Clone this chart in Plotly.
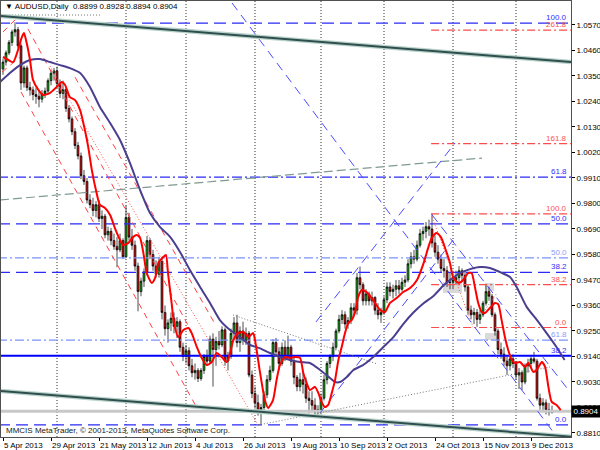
import plotly.graph_objects as go

# ---------------- data (daily bars, index 0 = 5 Apr 2013) ----------------
opens = [1.0380,1.0410,1.0450,1.0495,1.0540,1.0550,1.0480,1.0320,1.0385,1.0300,
         1.0290,1.0270,1.0262,1.0250,1.0272,1.0285,1.0330,1.0362,1.0372,1.0318,
         1.0275,1.0292,1.0210,1.0165,1.0110,1.0050,1.0005,0.9920,0.9895,0.9815,
         0.9795,0.9770,0.9795,0.9735,0.9745,0.9665,0.9680,0.9640,0.9615,0.9600,
         0.9640,0.9570,0.9740,0.9655,0.9620,0.9530,0.9420,0.9465,0.9505,0.9640,
         0.9580,0.9530,0.9495,0.9550,0.9330,0.9260,0.9285,0.9305,0.9270,0.9290,
         0.9180,0.9140,0.9165,0.9100,0.9070,0.9080,0.9045,0.9080,0.9140,0.9120,
         0.9215,0.9170,0.9205,0.9190,0.9255,0.9120,0.9140,0.9240,0.9285,0.9200,
         0.9250,0.9210,0.9240,0.9060,0.8980,0.8940,0.8900,0.8920,0.8975,0.9040,
         0.9080,0.9200,0.9160,0.9110,0.9180,0.9140,0.9180,0.9120,0.9050,0.9010,
         0.9040,0.9020,0.8960,0.8950,0.8930,0.8900,0.8910,0.8960,0.9040,0.9110,
         0.9140,0.9180,0.9250,0.9300,0.9320,0.9280,0.9295,0.9350,0.9340,0.9480,
         0.9450,0.9380,0.9410,0.9380,0.9395,0.9340,0.9320,0.9330,0.9385,0.9440,
         0.9420,0.9430,0.9445,0.9430,0.9460,0.9470,0.9540,0.9570,0.9560,0.9620,
         0.9670,0.9680,0.9700,0.9690,0.9630,0.9590,0.9560,0.9520,0.9510,0.9460,
         0.9460,0.9470,0.9480,0.9510,0.9490,0.9440,0.9340,0.9320,0.9330,0.9300,
         0.9320,0.9370,0.9420,0.9400,0.9320,0.9250,0.9170,0.9150,0.9120,0.9100,
         0.9130,0.9110,0.9060,0.9070,0.9030,0.9100,0.9110,0.9130,0.9120,0.8960,
         0.8930,0.8940,0.8910,0.8899]
highs = [1.0425,1.0460,1.0505,1.0550,1.0582,1.0562,1.0490,1.0395,1.0395,1.0325,
         1.0305,1.0300,1.0285,1.0290,1.0300,1.0340,1.0378,1.0385,1.0390,1.0335,
         1.0330,1.0300,1.0225,1.0175,1.0125,1.0065,1.0020,0.9945,0.9910,0.9840,
         0.9825,0.9810,0.9815,0.9770,0.9755,0.9700,0.9695,0.9670,0.9655,0.9670,
         0.9650,0.9790,0.9760,0.9690,0.9640,0.9545,0.9480,0.9520,0.9660,0.9650,
         0.9600,0.9555,0.9570,0.9570,0.9360,0.9300,0.9330,0.9330,0.9310,0.9300,
         0.9200,0.9190,0.9180,0.9130,0.9110,0.9090,0.9090,0.9150,0.9170,0.9230,
         0.9240,0.9225,0.9250,0.9270,0.9265,0.9160,0.9260,0.9310,0.9320,0.9270,
         0.9290,0.9265,0.9250,0.9080,0.9010,0.8975,0.8935,0.8990,0.9060,0.9100,
         0.9215,0.9220,0.9180,0.9200,0.9210,0.9230,0.9190,0.9140,0.9060,0.9070,
         0.9070,0.9050,0.8990,0.8990,0.8960,0.8930,0.8980,0.9060,0.9120,0.9150,
         0.9200,0.9260,0.9320,0.9340,0.9335,0.9310,0.9370,0.9370,0.9500,0.9528,
         0.9460,0.9430,0.9420,0.9420,0.9400,0.9370,0.9350,0.9400,0.9460,0.9460,
         0.9450,0.9470,0.9470,0.9480,0.9490,0.9560,0.9590,0.9600,0.9640,0.9690,
         0.9700,0.9720,0.9730,0.9757,0.9660,0.9620,0.9580,0.9560,0.9530,0.9500,
         0.9490,0.9510,0.9530,0.9520,0.9510,0.9450,0.9360,0.9350,0.9345,0.9340,
         0.9380,0.9450,0.9440,0.9410,0.9330,0.9260,0.9200,0.9180,0.9140,0.9150,
         0.9150,0.9120,0.9090,0.9080,0.9110,0.9130,0.9140,0.9160,0.9130,0.8980,
         0.8960,0.8955,0.8940,0.8928]
lows = [1.0355,1.0395,1.0440,1.0480,1.0520,1.0470,1.0290,1.0300,1.0285,1.0265,
        1.0245,1.0230,1.0215,1.0235,1.0255,1.0270,1.0310,1.0330,1.0300,1.0255,
        1.0250,1.0195,1.0150,1.0095,1.0035,0.9990,0.9905,0.9880,0.9800,0.9780,
        0.9745,0.9740,0.9720,0.9690,0.9650,0.9640,0.9620,0.9600,0.9525,0.9590,
        0.9560,0.9565,0.9640,0.9600,0.9510,0.9335,0.9400,0.9440,0.9490,0.9560,
        0.9510,0.9480,0.9480,0.9300,0.9230,0.9200,0.9250,0.9240,0.9220,0.9160,
        0.9120,0.9110,0.9080,0.9050,0.9040,0.9030,0.9035,0.9065,0.9100,0.9110,
        0.9010,0.9100,0.9170,0.9180,0.9100,0.9080,0.9130,0.9220,0.9180,0.9160,
        0.9190,0.9190,0.9050,0.8960,0.8915,0.8885,0.8847,0.8900,0.8960,0.9030,
        0.9070,0.9140,0.9080,0.9100,0.9120,0.9130,0.9100,0.9020,0.8990,0.8990,
        0.8980,0.8940,0.8895,0.8900,0.8880,0.8885,0.8890,0.8950,0.9020,0.9090,
        0.9120,0.9170,0.9240,0.9280,0.9260,0.9260,0.9280,0.9320,0.9320,0.9430,
        0.9360,0.9360,0.9360,0.9360,0.9320,0.9300,0.9285,0.9320,0.9370,0.9400,
        0.9390,0.9400,0.9410,0.9420,0.9440,0.9460,0.9520,0.9540,0.9550,0.9610,
        0.9640,0.9650,0.9660,0.9610,0.9570,0.9540,0.9500,0.9480,0.9440,0.9430,
        0.9430,0.9450,0.9460,0.9460,0.9420,0.9320,0.9300,0.9280,0.9268,0.9280,
        0.9310,0.9360,0.9380,0.9310,0.9230,0.9150,0.9130,0.9100,0.9060,0.9080,
        0.9090,0.9040,0.9000,0.8995,0.9020,0.9070,0.9090,0.9110,0.8950,0.8910,
        0.8900,0.8890,0.8885,0.8894]
closes = [1.0410,1.0450,1.0495,1.0540,1.0550,1.0480,1.0320,1.0385,1.0300,1.0290,
          1.0270,1.0262,1.0250,1.0272,1.0285,1.0330,1.0362,1.0372,1.0318,1.0275,
          1.0292,1.0210,1.0165,1.0110,1.0050,1.0005,0.9920,0.9895,0.9815,0.9795,
          0.9770,0.9795,0.9735,0.9745,0.9665,0.9680,0.9640,0.9615,0.9600,0.9640,
          0.9570,0.9740,0.9655,0.9620,0.9530,0.9420,0.9465,0.9505,0.9640,0.9580,
          0.9530,0.9495,0.9550,0.9330,0.9260,0.9285,0.9305,0.9270,0.9290,0.9180,
          0.9140,0.9165,0.9100,0.9070,0.9080,0.9045,0.9080,0.9140,0.9120,0.9215,
          0.9170,0.9205,0.9190,0.9255,0.9120,0.9140,0.9240,0.9285,0.9200,0.9250,
          0.9210,0.9240,0.9060,0.8980,0.8940,0.8900,0.8920,0.8975,0.9040,0.9080,
          0.9200,0.9160,0.9110,0.9180,0.9140,0.9180,0.9120,0.9050,0.9010,0.9040,
          0.9020,0.8960,0.8950,0.8930,0.8900,0.8910,0.8960,0.9040,0.9110,0.9140,
          0.9180,0.9250,0.9300,0.9320,0.9280,0.9295,0.9350,0.9340,0.9480,0.9450,
          0.9380,0.9410,0.9380,0.9395,0.9340,0.9320,0.9330,0.9385,0.9440,0.9420,
          0.9430,0.9445,0.9430,0.9460,0.9470,0.9540,0.9570,0.9560,0.9620,0.9670,
          0.9680,0.9700,0.9690,0.9630,0.9590,0.9560,0.9520,0.9510,0.9460,0.9460,
          0.9470,0.9480,0.9510,0.9490,0.9440,0.9340,0.9320,0.9330,0.9300,0.9320,
          0.9370,0.9420,0.9400,0.9320,0.9250,0.9170,0.9150,0.9120,0.9100,0.9130,
          0.9110,0.9060,0.9070,0.9030,0.9100,0.9110,0.9130,0.9120,0.8960,0.8930,
          0.8940,0.8910,0.8899,0.8904]

# x-axis labels (bar index -> date text) and month-start grid bars
date_tick_bars = [0, 16, 32, 48, 64, 80, 96, 112, 128, 144, 160, 176]
date_tick_text = ["5 Apr 2013", "29 Apr 2013", "21 May 2013", "12 Jun 2013", "4 Jul 2013",
                  "26 Jul 2013", "19 Aug 2013", "10 Sep 2013", "2 Oct 2013", "24 Oct 2013",
                  "15 Nov 2013", "9 Dec 2013"]
month_start_bars = [18, 41, 61, 84, 106, 127, 150, 171]
price_ticks = [0.8810, 0.8920, 0.9030, 0.9140, 0.9250, 0.9360, 0.9470, 0.9580, 0.9690,
               0.9800, 0.9910, 1.0020, 1.0130, 1.0240, 1.0350, 1.0460, 1.0570]

# moving averages (shifted indicators)
fast_ma_x = [0,1.8,3.4,5,6.2,7,7.9,9,10,11.8,13.4,15.7,17.9,19.6,20.7,22.3,24,25.7,27.3,28.4,
             29.6,31.2,32.3,34,35.7,37.3,39,40,41.8,43.4,44.6,45.7,46.8,47.9,49.6,50.7,51.8,
             53.4,54.3,55,56.2,57,58.4,60.1,61.8,62.9,64.6,66.2,67.9,69.6,71.2,72.9,74.6,75.7,
             76.8,78.4,80.1,81.8,83.4,84,85.7,87.3,88.4,90,91.2,92.3,94,95.7,97.3,99,100.1,
             101.2,102.3,104,105.1,106.2,107.3,108.4,109.6,110.7,111.8,112.9,114,115.1,116.2,
             117.3,118.4,119.6,121,123,125.7,127.3,129,131.2,133.4,135.7,138,140.2,141.8,142.9,
             144.5,146,147.6,149,150,151.8,153.4,155,156.2,157.3,158.4,159.6,160.7,162.3,164,
             165.1,166.2,167.3,168.4,169.6,170.7,172.3,174,175.1,176.8,177.9,179.6,180.7,181.8,
             182.9,184.5,185.9]
fast_ma_y = [1.0432,1.0419,1.0410,1.0462,1.0514,1.0535,1.0492,1.0419,1.0333,1.0290,1.0268,
             1.0277,1.0303,1.0324,1.0311,1.0259,1.0246,1.0203,1.0117,1.0044,0.9945,0.9845,
             0.9794,0.9781,0.9750,0.9694,0.9643,0.9621,0.9630,0.9656,0.9664,0.9651,0.9586,
             0.9500,0.9457,0.9479,0.9543,0.9569,0.9578,0.9500,0.9371,0.9285,0.9224,0.9254,
             0.9263,0.9241,0.9181,0.9134,0.9103,0.9116,0.9155,0.9138,0.9116,0.9155,0.9211,
             0.9241,0.9246,0.9224,0.9241,0.9211,0.9069,0.8952,0.8918,0.8952,0.9039,0.9103,
             0.9138,0.9134,0.9138,0.9134,0.9069,0.9026,0.8995,0.9009,0.8983,0.8944,0.8922,
             0.8931,0.8983,0.9039,0.9125,0.9181,0.9241,0.9285,0.9297,0.9328,0.9397,0.9427,
             0.9420,0.9390,0.9341,0.9332,0.9371,0.9392,0.9418,0.9435,0.9470,0.9543,0.9612,
             0.9651,0.9673,0.9654,0.9599,0.9543,0.9483,0.9457,0.9470,0.9500,0.9500,0.9440,
             0.9371,0.9332,0.9328,0.9349,0.9371,0.9365,0.9297,0.9224,0.9168,0.9125,0.9112,
             0.9116,0.9095,0.9112,0.9073,0.9082,0.9116,0.9095,0.9009,0.8944,0.8931,0.8909]
slow_ma_x = [-1,2.3,5.7,9,12.3,15.7,19,22.3,25.7,29,32.3,35.7,39,42.3,45.7,49,52.3,55.7,59,
             62.3,65.7,69,72.3,75.7,79,82.3,85.7,89,92.3,95.7,99,102.3,105.7,109,110.7,112.3,
             114.6,116.8,120,123.4,126.8,130.2,133.4,136.8,140.2,143.4,146.8,149.5,152.3,155.7,
             159,162.3,165.7,169,171.2,174.6,178,181.2,184.5,187.2]
slow_ma_y = [1.0324,1.0363,1.0397,1.0419,1.0423,1.0410,1.0397,1.0384,1.0363,1.0303,1.0216,
             1.0147,1.0074,0.9975,0.9858,0.9759,0.9699,0.9656,0.9591,0.9513,0.9440,0.9371,
             0.9297,0.9254,0.9224,0.9190,0.9175,0.9155,0.9138,0.9125,0.9116,0.9112,0.9082,
             0.9047,0.9030,0.9030,0.9052,0.9082,0.9103,0.9138,0.9181,0.9225,0.9280,0.9330,
             0.9370,0.9400,0.9446,0.9475,0.9500,0.9517,0.9526,0.9522,0.9504,0.9483,0.9440,
             0.9353,0.9297,0.9241,0.9181,0.9125]

# Fibonacci retracement sets (level price, label)
blue_fib_levels = [1.0578, 0.9712, 0.9503, 0.8845]
blue_fib_labels = ["100.0", "50.0", "38.2", "0.0"]
blue_fib618_level = 0.9914
blue_fib618_label = "61.8"
light_fib_levels = [0.9565, 0.9211]
light_fib_labels = ["50.0", "61.8"]
solid_level = 0.9143
solid_label = "38.2"
red_fib_levels = [1.0548, 1.0058, 0.9755, 0.9450, 0.9265]
red_fib_labels = ["261.8", "161.8", "100.0", "38.2", "0.0"]
red_fib_start_bar = 142.7
current_price = closes[-1]

# drawn trend lines: (bar0, price0, bar1, price1)
channel_lines = [(-1, 1.0609, 189.33, 1.0410), (-1, 0.8991, 189.33, 0.8794)]
grey_dashed_lines = [(-1, 0.9815, 159.67, 0.9996)]
blue_dashed_diagonals = [(76.33, 1.0665, 185.67, 0.8775), (104.33, 0.9289, 150.67, 1.0061),
                         (105.67, 0.8896, 150.0, 0.9642), (143.0, 0.9751, 189.0, 0.8987)]
red_dashed_diagonals = [(6.0, 1.0281, 64.67, 0.8918), (8.33, 1.0553, 62.33, 0.9259),
                        (24.0, 1.0345, 70.67, 0.9280), (-0.33, 1.0367, 5.67, 1.0432),
                        (0.0, 1.0540, 4.0, 1.0592)]
red_dotted_diagonals = [(15.67, 1.0393, 85.0, 0.8844), (143.0, 0.9742, 156.67, 0.9267)]
grey_dotted_lines = [(76.67, 0.9319, 124.67, 0.9108), (85.0, 0.8844, 182.33, 0.9095),
                     (160.67, 0.9341, 164.67, 0.9414), (0.0, 1.0613, 32.33, 1.0613)]
highlight_boxes = [(146.67, 0.9461, 153.0, 0.9414), (160.67, 0.9457, 163.67, 0.9423),
                   (160.67, 0.9241, 164.67, 0.9211)]

# ---------------- figure ----------------
X_MIN, X_MAX = -0.667, 189.333
Y_MIN, Y_MAX = 0.87927, 1.06735
FONT = "Liberation Sans, Arial, sans-serif"
FS = 8

fig = go.Figure()


def seg(x0, y0, x1, y1, color, width=1.0, dash="solid"):
    fig.add_trace(go.Scatter(x=[x0, x1], y=[y0, y1], mode="lines",
                             line=dict(color=color, width=width, dash=dash),
                             hoverinfo="skip", showlegend=False))


# highlight rectangles & month grid
for (bx0, p0, bx1, p1) in highlight_boxes:
    fig.add_shape(type="rect", x0=bx0, x1=bx1, y0=p0, y1=p1, xref="x", yref="y",
                  fillcolor="#d9d9d9", line=dict(width=0), layer="below")
for b in month_start_bars:
    fig.add_shape(type="line", x0=b, x1=b, y0=0, y1=1, xref="x", yref="paper",
                  line=dict(color="#303030", width=1, dash="1px,2px"), layer="below")

# horizontal levels
seg(X_MIN - 1, current_price, X_MAX + 1, current_price, "#c8c8c8", 3)
for lv in blue_fib_levels:
    seg(X_MIN - 1, lv, X_MAX + 1, lv, "#2b2bf5", 1.2, "12px,6px")
seg(X_MIN - 1, blue_fib618_level, X_MAX + 1, blue_fib618_level, "#2b2bf5", 1.2, "10px,3px,2px,3px")
for lv in light_fib_levels:
    seg(X_MIN - 1, lv, X_MAX + 1, lv, "#7b93ff", 1.2, "9px,3px,2px,3px")
seg(X_MIN - 1, solid_level, X_MAX + 1, solid_level, "#0000ff", 2)
for lv in red_fib_levels:
    seg(red_fib_start_bar, lv, X_MAX + 1, lv, "#ff4d4d", 1.2, "8px,3px,2px,3px")

# trend lines
for (a, b, c, d) in grey_dashed_lines:
    seg(a, b, c, d, "#7f9a92", 1.2, "9px,4px")
for (a, b, c, d) in red_dashed_diagonals:
    seg(a, b, c, d, "#ff4040", 1, "6px,5px")
for (a, b, c, d) in red_dotted_diagonals:
    seg(a, b, c, d, "#ff5050", 1, "1px,2px")
for (a, b, c, d) in blue_dashed_diagonals:
    seg(a, b, c, d, "#4b4bff", 1, "9px,6px")
for (a, b, c, d) in grey_dotted_lines:
    seg(a, b, c, d, "#707a78", 1, "1px,2px")
for (a, b, c, d) in channel_lines:
    seg(a, b, c, d, "#b9d2c9", 4.5)
    seg(a, b, c, d, "#2f4f4f", 2)

# candles
fig.add_trace(go.Candlestick(
    x=list(range(len(closes))), open=opens, high=highs, low=lows, close=closes,
    increasing=dict(line=dict(color="#000000", width=0.7), fillcolor="#16a016"),
    decreasing=dict(line=dict(color="#000000", width=0.7), fillcolor="#d01010"),
    whiskerwidth=0, hoverinfo="skip", showlegend=False))

# moving averages
fig.add_trace(go.Scatter(x=slow_ma_x, y=slow_ma_y, mode="lines",
                         line=dict(color="#4a3f8f", width=2, shape="spline", smoothing=0.6),
                         hoverinfo="skip", showlegend=False))
fig.add_trace(go.Scatter(x=fast_ma_x, y=fast_ma_y, mode="lines",
                         line=dict(color="#ff0000", width=2, shape="spline", smoothing=0.6),
                         hoverinfo="skip", showlegend=False))

# level labels
LABEL_X = 188.3


def level_label(text, y, color):
    fig.add_annotation(x=LABEL_X, y=y, xref="x", yref="y", text=text, showarrow=False,
                       xanchor="right", yanchor="bottom", borderpad=0,
                       font=dict(family=FONT, size=FS, color=color))


for t, lv in zip(blue_fib_labels, blue_fib_levels):
    level_label(t, lv, "#3030ff")
level_label(blue_fib618_label, blue_fib618_level, "#3030ff")
for t, lv in zip(light_fib_labels, light_fib_levels):
    level_label(t, lv, "#8a9cff")
level_label(solid_label, solid_level, "#3030ff")
for t, lv in zip(red_fib_labels, red_fib_levels):
    level_label(t, lv, "#ff5050")

# header / footer texts
fig.add_annotation(x=0.0035, y=0.987, xref="paper", yref="paper", xanchor="left", yanchor="middle",
                   showarrow=False, font=dict(family=FONT, size=FS, color="#000000"),
                   text="\u25BC AUDUSD,Daily  %.4f %.4f %.4f %.4f" % (opens[-1], highs[-1], lows[-1], closes[-1]))
fig.add_annotation(x=0.005, y=0.016, xref="paper", yref="paper", xanchor="left", yanchor="middle",
                   showarrow=False, font=dict(family=FONT, size=FS, color="#202020"),
                   text="MMCIS MetaTrader, \u00A9 2001-2013, MetaQuotes Software Corp.")
fig.add_annotation(x=1.0, y=current_price, xref="paper", yref="y", xanchor="left", yanchor="middle",
                   showarrow=False, bgcolor="#000000", borderpad=1, width=26, align="center",
                   font=dict(family=FONT, size=FS, color="#ffffff"), text="%.4f" % current_price)

fig.update_layout(
    width=600, height=450, margin=dict(l=1, r=29, t=1, b=13, autoexpand=False),
    paper_bgcolor="#ffffff", plot_bgcolor="#ffffff", showlegend=False, boxgap=0.1,
    font=dict(family=FONT, size=FS, color="#000000"),
    xaxis=dict(range=[X_MIN, X_MAX], tickvals=date_tick_bars, ticktext=date_tick_text,
               ticks="outside", ticklen=3, tickcolor="#000000", ticklabelposition="outside right",
               tickangle=0, automargin=False,
               showgrid=False, zeroline=False, showline=True, linecolor="#505050", mirror=True,
               rangeslider=dict(visible=False), tickfont=dict(family=FONT, size=FS)),
    yaxis=dict(range=[Y_MIN, Y_MAX], side="right", tickvals=price_ticks, automargin=False,
               ticktext=["%.4f" % v for v in price_ticks], ticks="outside", ticklen=3,
               tickcolor="#000000", showgrid=False, zeroline=False, showline=True,
               linecolor="#505050", mirror=True, tickfont=dict(family=FONT, size=FS)),
)

fig.write_html("out.html", config={"displayModeBar": False, "staticPlot": True},
               post_script="document.body.style.margin='0px';document.body.style.overflow='hidden';")
